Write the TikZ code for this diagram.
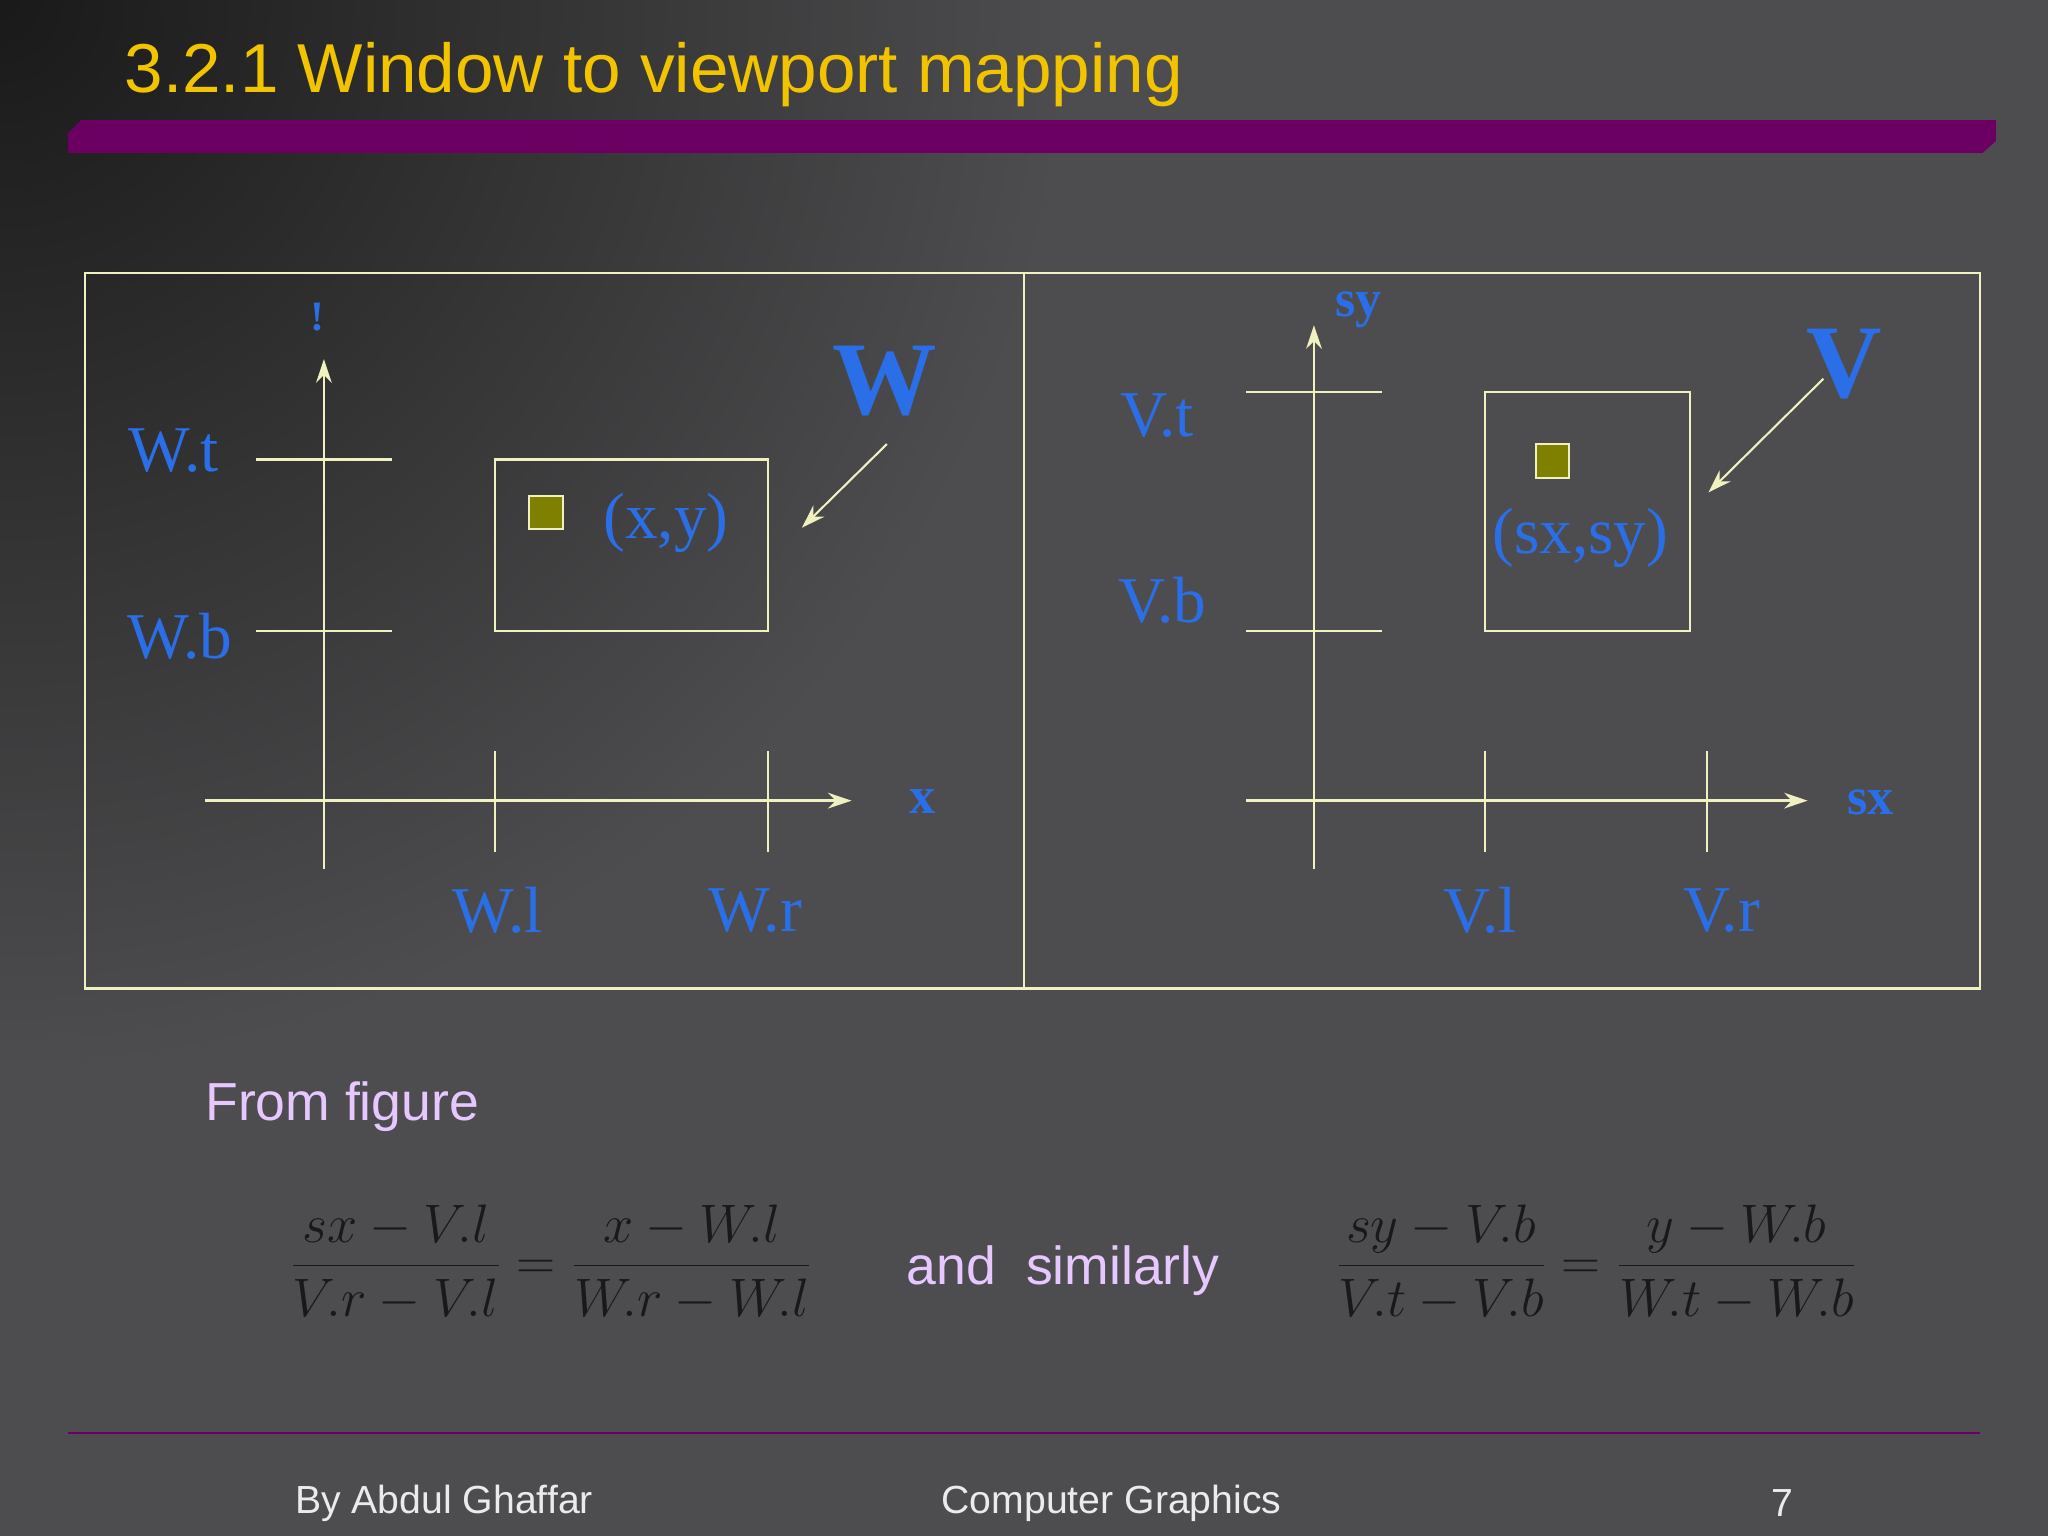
\documentclass[tikz,border=0pt]{standalone}
\usepackage{fontspec}
\setmainfont{Liberation Serif}
\newfontfamily\sansf{Liberation Sans}
\usetikzlibrary{arrows.meta}
\definecolor{bg}{HTML}{4D4D4F}
\definecolor{ln}{HTML}{F0F0C0}
\definecolor{lb}{HTML}{2A6FE8}
\definecolor{ttl}{HTML}{F2C400}
\definecolor{pur}{HTML}{6B0062}
\definecolor{lav}{HTML}{E6C8FF}
\definecolor{olv}{HTML}{808000}
\tikzset{
  axis/.style={draw=ln, line width=1pt},
  arr/.style={draw=ln, line width=1pt, -{Stealth[length=9pt,width=6pt]}},
  lbl/.style={text=lb, font=\fontsize{25}{28}\selectfont, inner sep=0pt},
  blbl/.style={text=lb, font=\bfseries\fontsize{20}{24}\selectfont, inner sep=0pt},
  big/.style={text=lb, font=\bfseries\fontsize{40}{44}\selectfont, inner sep=0pt},
  sq/.style={draw=ln, fill=olv, line width=0.8pt},
  lav/.style={text=lav, font=\sansf\fontsize{20.5}{24}\selectfont, inner sep=0pt},
  foot/.style={text=white!92!black, font=\sansf\fontsize{15}{18}\selectfont, inner sep=0pt},
  eq/.style={text=black!90, font=\fontsize{22}{26}\selectfont, inner sep=0pt}
}
\begin{document}
\begin{tikzpicture}[x=0.5pt,y=-0.5pt]
\useasboundingbox (0,0) rectangle (1568,1176);
\fill[bg] (0,0) rectangle (1568,1176);
\begin{scope}
\clip (0,0) rectangle (1568,1176);
\shade[inner color=black!90, outer color=bg] (0,0) circle (820);
\end{scope}
% title bar
\node[anchor=west, text=ttl, font=\sansf\fontsize{26.5}{30}\selectfont, inner sep=0pt] (title) at (95,57) {3.2.1 Window to viewport mapping};
\fill[pur] (62,92) -- (1528,92) -- (1528,108) -- (1518,117) -- (52,117) -- (52,102) -- cycle;
% frame
\draw[ln, line width=1pt] (65,209) rectangle (1516,757);
\draw[ln, line width=1pt] (784,209) -- (784,757);
% left axes
\coordinate (ly0) at (248,665); \coordinate (ly1) at (248,275);
\coordinate (lx0) at (157,613); \coordinate (lx1) at (652,613);
\draw[arr] (ly0) -- (ly1);
\draw[arr] (lx0) -- (lx1);
\draw[axis] (196,352) -- (300,352);
\draw[axis] (196,483) -- (300,483);
\draw[axis] (379,575) -- (379,652);
\draw[axis] (588,575) -- (588,652);
\draw[axis] (379,352) rectangle (588,483);
\draw[sq] (405,380) rectangle (431,405);
\node[lbl] (wt) at (133,345) {W.t};
\node[lbl] (wb) at (138,487) {W.b};
\node[lbl] (wl) at (381,697) {W.l};
\node[lbl] (wr) at (578,697) {W.r};
\node[lbl] (xy) at (510,400) {(x,y)};
\node[big] (W) at (677,292) {W};
\node[blbl] (xl) at (706,614) {x};
\node[blbl, font=\bfseries\fontsize{16}{20}\selectfont] (yl) at (243,243) {!};
\coordinate (wa0) at (679,340); \coordinate (wa1) at (614,404);
\draw[draw=ln, line width=0.8pt, -{Stealth[length=9pt,width=6pt]}] (wa0) -- (wa1);
% right axes
\coordinate (ry0) at (1006,665); \coordinate (ry1) at (1006,249);
\coordinate (rx0) at (954,613); \coordinate (rx1) at (1384,613);
\draw[arr] (ry0) -- (ry1);
\draw[arr] (rx0) -- (rx1);
\draw[axis] (954,300) -- (1058,300);
\draw[axis] (954,483) -- (1058,483);
\draw[axis] (1137,575) -- (1137,652);
\draw[axis] (1307,575) -- (1307,652);
\draw[axis] (1137,300) rectangle (1294,483);
\draw[sq] (1176,340) rectangle (1201,366);
\node[lbl] (vt) at (886,318) {V.t};
\node[lbl] (vb) at (890,460) {V.b};
\node[lbl] (vl) at (1133,697) {V.l};
\node[lbl] (vr) at (1318,697) {V.r};
\node[lbl] (sxsy) at (1210,412) {(sx,sy)};
\node[big] (V) at (1412,279) {V};
\node[blbl] (sxl) at (1432,614) {sx};
\node[blbl] (syl) at (1040,237) {sy};
\coordinate (va0) at (1396,290); \coordinate (va1) at (1308,377);
\draw[draw=ln, line width=0.8pt, -{Stealth[length=9pt,width=6pt]}] (va0) -- (va1);
% text
\node[lav] (from) at (262,847) {From figure};
\node[eq] (eq1) at (422,967) {$\displaystyle\frac{sx-V.l}{V.r-V.l}=\frac{x-W.l}{W.r-W.l}$};
\node[lav] (and) at (814,973) {and\ \ similarly};
\node[eq] (eq2) at (1222,967) {$\displaystyle\frac{sy-V.b}{V.t-V.b}=\frac{y-W.b}{W.t-W.b}$};
% footer
\draw[pur, line width=1pt] (52,1097) -- (1516,1097);
\node[foot] (f1) at (340,1151) {By Abdul Ghaffar};
\node[foot] (f2) at (851,1151) {Computer Graphics};
\node[foot] (f3) at (1365,1151) {7};
\end{tikzpicture}
\end{document}
